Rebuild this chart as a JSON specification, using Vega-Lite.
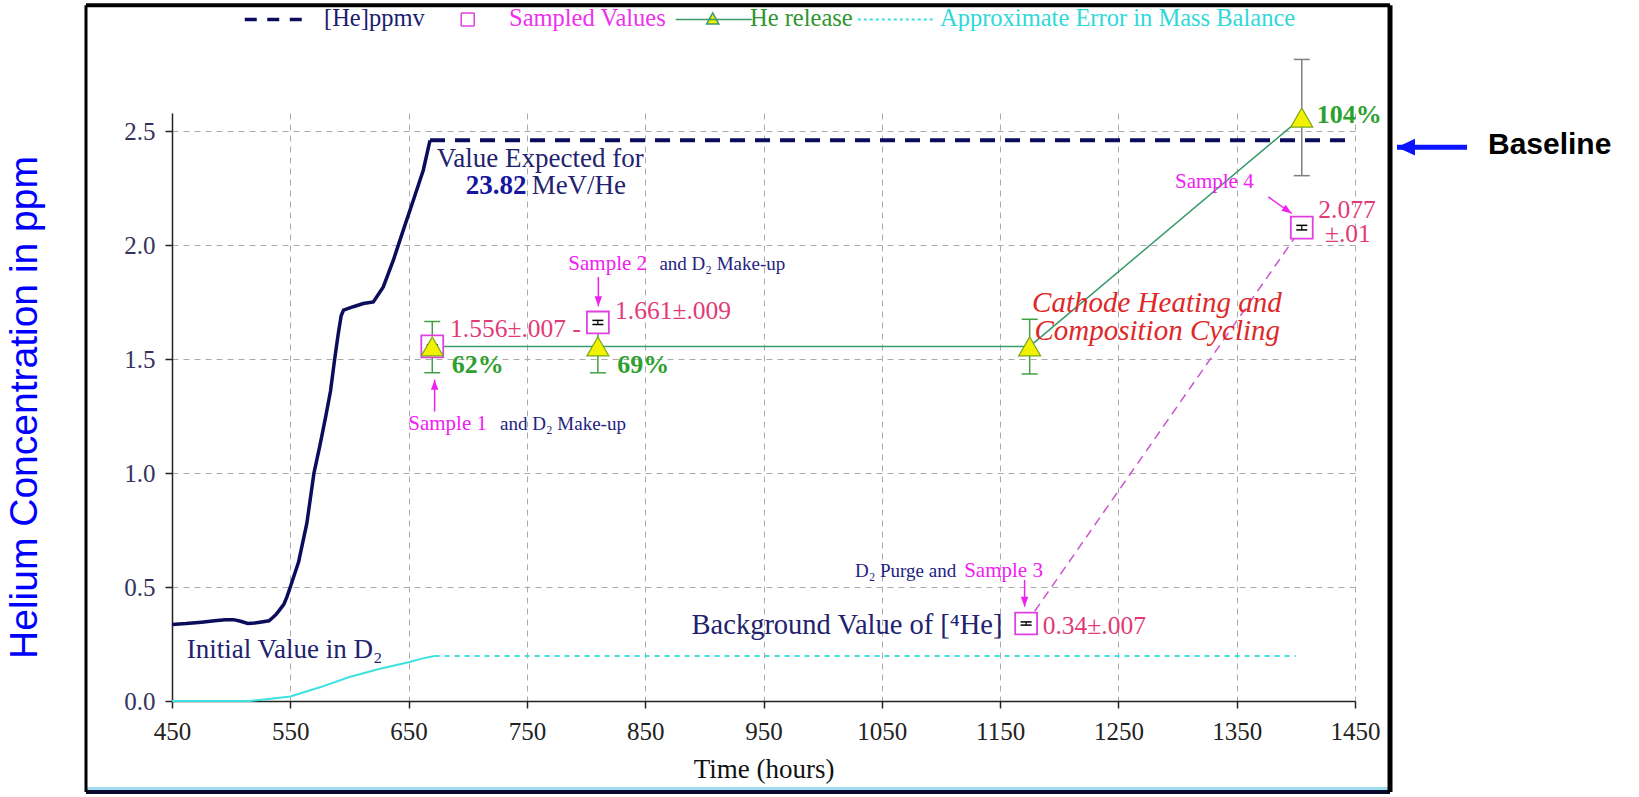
{
  "$schema": "https://vega.github.io/schema/vega-lite/v6.json",
  "autosize": {"type": "none"},
  "width": 1183,
  "height": 588,
  "padding": {"left": 172, "top": 113, "right": 284, "bottom": 96},
  "background": "white",
  "config": {
    "view": {"stroke": null},
    "font": "Liberation Serif",
    "axis": {
      "grid": true, "gridColor": "#ababab", "gridDash": [6, 5], "gridWidth": 1,
      "domainColor": "#222222", "domainWidth": 1.5, "tickColor": "#222222", "tickWidth": 1.5, "tickSize": 7,
      "labelFont": "Liberation Serif", "labelFontSize": 25, "titleFontWeight": "normal", "labelOverlap": false
    }
  },
  "datasets": {
    "heSolid": [
      {"t": 450, "c": 0.336}, {"t": 462, "c": 0.34}, {"t": 475, "c": 0.346}, {"t": 486, "c": 0.352},
      {"t": 495, "c": 0.356}, {"t": 502, "c": 0.357}, {"t": 508, "c": 0.35}, {"t": 514, "c": 0.34},
      {"t": 520, "c": 0.342}, {"t": 527, "c": 0.348}, {"t": 532, "c": 0.352}, {"t": 535, "c": 0.365},
      {"t": 538, "c": 0.38}, {"t": 541, "c": 0.4}, {"t": 544.5, "c": 0.424}, {"t": 547, "c": 0.455},
      {"t": 550, "c": 0.5}, {"t": 557, "c": 0.61}, {"t": 564, "c": 0.78}, {"t": 570, "c": 1.0},
      {"t": 575, "c": 1.12}, {"t": 580, "c": 1.25}, {"t": 584, "c": 1.36}, {"t": 587.5, "c": 1.5},
      {"t": 590.5, "c": 1.61}, {"t": 593, "c": 1.69}, {"t": 595, "c": 1.715}, {"t": 603.3, "c": 1.73},
      {"t": 611.7, "c": 1.744}, {"t": 620.2, "c": 1.751}, {"t": 628.6, "c": 1.817}, {"t": 637.1, "c": 1.934},
      {"t": 645.5, "c": 2.066}, {"t": 654, "c": 2.197}, {"t": 662.4, "c": 2.329}, {"t": 668.1, "c": 2.46}
    ],
    "heDashed": [{"t": 668.1, "c": 2.46}, {"t": 1450, "c": 2.46}],
    "errSolid": [
      {"t": 450, "c": 0}, {"t": 516, "c": 0}, {"t": 530, "c": 0.008}, {"t": 550, "c": 0.02},
      {"t": 575, "c": 0.06}, {"t": 600, "c": 0.105}, {"t": 625, "c": 0.14}, {"t": 650, "c": 0.17},
      {"t": 662, "c": 0.187}, {"t": 672, "c": 0.197}
    ],
    "errDashed": [{"t": 672, "c": 0.197}, {"t": 1400, "c": 0.197}],
    "release": [
      {"t": 670, "c": 1.556, "lo": 1.44, "hi": 1.665},
      {"t": 810, "c": 1.556, "lo": 1.44, "hi": 1.67},
      {"t": 1175, "c": 1.556, "lo": 1.435, "hi": 1.675},
      {"t": 1405, "c": 2.56, "lo": 2.305, "hi": 2.815}
    ],
    "samples": [
      {"t": 670, "c": 1.556, "lo": 1.549, "hi": 1.563},
      {"t": 810, "c": 1.661, "lo": 1.652, "hi": 1.67},
      {"t": 1172, "c": 0.34, "lo": 0.333, "hi": 0.347},
      {"t": 1405, "c": 2.077, "lo": 2.067, "hi": 2.087}
    ],
    "arrows": [
      {"t": 672, "c": 1.27, "t2": 672, "c2": 1.41, "dir": "up", "k": "m"},
      {"t": 810.4, "c": 1.861, "t2": 810.4, "c2": 1.732, "dir": "down", "k": "m"},
      {"t": 1170.7, "c": 0.531, "t2": 1170.7, "c2": 0.414, "dir": "down", "k": "m"},
      {"t": 1376.7, "c": 2.212, "t2": 1396.5, "c2": 2.139, "dir": "diag", "k": "m"},
      {"t": 1544.7, "c": 2.43, "t2": 1485.5, "c2": 2.43, "dir": "left", "k": "b"}
    ],
    "notes": [
      {"text": "Value Expected for", "t": 673.8, "c": 2.343, "k": "navy"},
      {"text": "MeV/He", "t": 754, "c": 2.224, "k": "navy"},
      {"text": "Initial Value in D₂", "t": 462.4, "c": 0.187, "k": "navy"},
      {"text": "Background Value of [⁴He]", "t": 889.2, "c": 0.294, "k": "bg"},
      {"text": "23.82", "t": 749.7, "c": 2.224, "k": "bold"},
      {"text": "1.556±.007 -", "t": 685, "c": 1.598, "k": "red"},
      {"text": "1.661±.009", "t": 824.5, "c": 1.678, "k": "red"},
      {"text": "0.34±.007", "t": 1186, "c": 0.294, "k": "red"},
      {"text": "2.077", "t": 1419, "c": 2.118, "k": "red"},
      {"text": "±.01", "t": 1424.6, "c": 2.015, "k": "red"},
      {"text": "62%", "t": 686.4, "c": 1.438, "k": "green"},
      {"text": "69%", "t": 826.4, "c": 1.438, "k": "green"},
      {"text": "104%", "t": 1417.6, "c": 2.534, "k": "green"},
      {"text": "Sample 1", "t": 649.7, "c": 1.189, "k": "mag"},
      {"text": "Sample 2", "t": 785, "c": 1.89, "k": "mag"},
      {"text": "Sample 3", "t": 1119.6, "c": 0.545, "k": "mag"},
      {"text": "Sample 4", "t": 1297.8, "c": 2.249, "k": "mag"},
      {"text": "and D₂ Make-up", "t": 727.3, "c": 1.189, "k": "navys"},
      {"text": "and D₂ Make-up", "t": 862, "c": 1.89, "k": "navys"},
      {"text": "D₂ Purge and", "t": 1027.3, "c": 0.545, "k": "navys"},
      {"text": "Cathode Heating and", "t": 1177, "c": 1.709, "k": "ital"},
      {"text": "Composition Cycling", "t": 1179, "c": 1.583, "k": "ital"},
      {"text": "Baseline", "t": 1562.4, "c": 2.44, "k": "base"}
    ]
  },
  "encoding": {
    "x": {
      "field": "t", "type": "quantitative",
      "scale": {"domain": [450, 1450], "nice": false, "zero": false},
      "axis": {
        "values": [450, 550, 650, 750, 850, 950, 1050, 1150, 1250, 1350, 1450], "format": "d",
        "title": "Time (hours)", "titleFont": "Liberation Serif", "titleFontSize": 27, "titleColor": "#111111",
        "labelColor": "#222222", "labelPadding": 11, "titlePadding": 12, "labelFlush": false
      }
    },
    "y": {
      "field": "c", "type": "quantitative",
      "scale": {"domain": [0, 2.58], "nice": false, "zero": false},
      "axis": {
        "values": [0, 0.5, 1, 1.5, 2, 2.5], "format": ".1f",
        "title": "Helium Concentration in ppm", "titleFont": "Liberation Sans", "titleFontSize": 39,
        "titleColor": "#0000ff", "titleX": -148, "titleY": 294, "titleBaseline": "middle",
        "labelColor": "#33335f", "labelPadding": 10
      }
    }
  },
  "layer": [
    {
      "data": {"name": "release"},
      "transform": [{"filter": "datum.t > 1400"}],
      "mark": {"type": "rule", "color": "#000000", "strokeWidth": 4},
      "encoding": {
        "x": {"datum": 377.3, "type": "quantitative"}, "x2": {"datum": 1479.6},
        "y": {"datum": 3.053, "type": "quantitative"}
      }
    },
    {
      "data": {"name": "release"},
      "transform": [{"filter": "datum.t > 1400"}],
      "mark": {"type": "rule", "color": "#0a0a30", "strokeWidth": 4},
      "encoding": {
        "x": {"datum": 377.3, "type": "quantitative"}, "x2": {"datum": 1479.6},
        "y": {"datum": -0.399, "type": "quantitative"}
      }
    },
    {
      "data": {"name": "release"},
      "transform": [{"filter": "datum.t > 1400"}],
      "mark": {"type": "rule", "color": "#9fdcef", "strokeWidth": 3},
      "encoding": {
        "x": {"datum": 377.3, "type": "quantitative"}, "x2": {"datum": 1479.6},
        "y": {"datum": -0.384, "type": "quantitative"}
      }
    },
    {
      "data": {"name": "release"},
      "transform": [{"filter": "datum.t > 1400"}],
      "mark": {"type": "rule", "color": "#000000", "strokeWidth": 3},
      "encoding": {
        "x": {"datum": 377.3, "type": "quantitative"},
        "y": {"datum": 3.053, "type": "quantitative"}, "y2": {"datum": -0.399}
      }
    },
    {
      "data": {"name": "release"},
      "transform": [{"filter": "datum.t > 1400"}],
      "mark": {"type": "rule", "color": "#000000", "strokeWidth": 5},
      "encoding": {
        "x": {"datum": 1479.6, "type": "quantitative"},
        "y": {"datum": 3.053, "type": "quantitative"}, "y2": {"datum": -0.399}
      }
    },
    {"data": {"name": "errSolid"}, "mark": {"type": "line", "color": "#3fe0e0", "strokeWidth": 2}, "encoding": {}},
    {"data": {"name": "errDashed"}, "mark": {"type": "line", "color": "#3fe0e0", "strokeWidth": 2, "strokeDash": [5, 5]}, "encoding": {}},
    {
      "data": {"name": "heSolid"},
      "mark": {"type": "line", "strokeWidth": 3.5},
      "encoding": {
        "color": {
          "datum": "[He]ppmv", "type": "nominal",
          "scale": {
            "domain": ["[He]ppmv", "Sampled Values", "He release", "Approximate Error in Mass Balance"],
            "range": ["#0c0c5c", "#e040e0", "#3a9a6a", "#3fe0e0"]
          },
          "legend": {
            "orient": "none", "legendX": 68.5, "legendY": -106, "direction": "horizontal", "title": null,
            "labelFont": "Liberation Serif", "labelFontSize": 24.5, "labelOffset": 59,
            "columnPadding": 0, "labelLimit": 600, "padding": 0,
            "encode": {
              "symbols": {
                "update": {
                  "shape": {"signal": "datum.value === '[He]ppmv' ? 'M-1.6,0H9.8' : datum.value === 'Sampled Values' ? 'M4.7,-1.3H7.3V1.3H4.7Z' : datum.value === 'He release' ? 'M-0.6,0H14.6M6.8,-1.3L8,0.9L5.6,0.9Z' : 'M-2.2,0H12.8'"},
                  "fill": {"signal": "datum.value === 'He release' ? '#f2f200' : datum.value === 'Sampled Values' ? '#ffffff' : 'transparent'"},
                  "stroke": {"signal": "datum.value === '[He]ppmv' ? '#0c0c5c' : datum.value === 'Sampled Values' ? '#e040e0' : datum.value === 'He release' ? '#3a9a3a' : '#3fe0e0'"},
                  "strokeWidth": {"signal": "datum.value === '[He]ppmv' ? 3.5 : datum.value === 'Approximate Error in Mass Balance' ? 2 : 1.5"},
                  "strokeDash": {"signal": "datum.value === '[He]ppmv' ? [12, 10.5] : datum.value === 'Approximate Error in Mass Balance' ? [3, 3] : [1, 0]"},
                  "size": {"value": 100},
                  "opacity": {"value": 1}
                }
              },
              "labels": {
                "update": {
                  "fill": {"signal": "datum.value === '[He]ppmv' ? '#1c1c70' : datum.value === 'Sampled Values' ? '#ee30ee' : datum.value === 'He release' ? '#2e962e' : '#30d8d8'"}
                }
              }
            }
          }
        }
      }
    },
    {"data": {"name": "heDashed"}, "mark": {"type": "line", "color": "#0c0c5c", "strokeWidth": 4, "strokeDash": [15, 10]}, "encoding": {}},
    {
      "data": {"name": "samples"},
      "transform": [{"filter": "datum.t > 1100"}],
      "mark": {"type": "line", "color": "#cc55cc", "strokeWidth": 1.5, "strokeDash": [9, 6]},
      "encoding": {}
    },
    {"data": {"name": "release"}, "mark": {"type": "line", "color": "#3a9a6a", "strokeWidth": 1.5}, "encoding": {}},
    {
      "data": {"name": "release"},
      "mark": {"type": "rule", "strokeWidth": 1.5},
      "encoding": {
        "y": {"field": "lo", "type": "quantitative"}, "y2": {"field": "hi"},
        "color": {"condition": {"test": "datum.t > 1400", "value": "#808080"}, "value": "#44a044"}
      }
    },
    {
      "data": {"name": "release"},
      "transform": [{"fold": ["lo", "hi"], "as": ["end", "v"]}],
      "mark": {"type": "tick", "orient": "horizontal", "size": 16, "thickness": 1.5, "opacity": 1},
      "encoding": {
        "y": {"field": "v", "type": "quantitative"},
        "color": {"condition": {"test": "datum.t > 1400", "value": "#808080"}, "value": "#44a044"}
      }
    },
    {
      "data": {"name": "samples"},
      "mark": {"type": "point", "shape": "square", "size": 480, "filled": true, "fill": "#ffffff", "stroke": "#e040e0", "strokeWidth": 1.8, "opacity": 1},
      "encoding": {}
    },
    {
      "data": {"name": "samples"},
      "mark": {"type": "rule", "color": "#000000", "strokeWidth": 1.2},
      "encoding": {"y": {"field": "lo", "type": "quantitative"}, "y2": {"field": "hi"}}
    },
    {
      "data": {"name": "samples"},
      "transform": [{"fold": ["lo", "hi"], "as": ["end", "v"]}],
      "mark": {"type": "tick", "orient": "horizontal", "size": 11, "thickness": 1.5, "color": "#000000", "opacity": 1},
      "encoding": {"y": {"field": "v", "type": "quantitative"}}
    },
    {
      "data": {"name": "release"},
      "mark": {"type": "point", "shape": "triangle-up", "size": 484, "filled": true, "fill": "#f2f200", "stroke": "#7aa820", "strokeWidth": 1.2, "opacity": 1},
      "encoding": {}
    },
    {
      "data": {"name": "arrows"},
      "mark": {"type": "rule"},
      "encoding": {
        "x2": {"field": "t2"}, "y2": {"field": "c2"},
        "color": {"condition": {"test": "datum.k === 'b'", "value": "#0a14ff"}, "value": "#f020f0"},
        "strokeWidth": {"condition": {"test": "datum.k === 'b'", "value": 5}, "value": 1.5}
      }
    },
    {
      "data": {"name": "arrows"},
      "mark": {"type": "point", "filled": true, "opacity": 1},
      "encoding": {
        "x": {"field": "t2", "type": "quantitative"},
        "y": {"field": "c2", "type": "quantitative"},
        "shape": {
          "field": "dir", "type": "nominal",
          "scale": {
            "domain": ["up", "down", "diag", "left"],
            "range": ["M0,0L-0.6,1.6L0.6,1.6Z", "M0,0L-0.6,-1.6L0.6,-1.6Z", "M0,0L-1.651,-0.436L-0.957,-1.414Z", "M0,0L1.6,-0.75L1.6,0.75Z"]
          },
          "legend": null
        },
        "size": {"condition": {"test": "datum.k === 'b'", "value": 506}, "value": 156},
        "color": {"condition": {"test": "datum.k === 'b'", "value": "#0a14ff"}, "value": "#f020f0"}
      }
    },
    {
      "data": {"name": "notes"},
      "transform": [{"filter": "datum.k === 'navy'"}],
      "mark": {"type": "text", "align": "left", "baseline": "alphabetic", "font": "Liberation Serif", "fontSize": 27, "color": "#22226e"},
      "encoding": {"text": {"field": "text"}}
    },
    {
      "data": {"name": "notes"},
      "transform": [{"filter": "datum.k === 'bg'"}],
      "mark": {"type": "text", "align": "left", "baseline": "alphabetic", "font": "Liberation Serif", "fontSize": 28.5, "color": "#22226e"},
      "encoding": {"text": {"field": "text"}}
    },
    {
      "data": {"name": "notes"},
      "transform": [{"filter": "datum.k === 'bold'"}],
      "mark": {"type": "text", "align": "right", "baseline": "alphabetic", "font": "Liberation Serif", "fontSize": 27, "fontWeight": "bold", "color": "#1515a0"},
      "encoding": {"text": {"field": "text"}}
    },
    {
      "data": {"name": "notes"},
      "transform": [{"filter": "datum.k === 'red'"}],
      "mark": {"type": "text", "align": "left", "baseline": "alphabetic", "font": "Liberation Serif", "fontSize": 25.5, "color": "#e23a78"},
      "encoding": {"text": {"field": "text"}}
    },
    {
      "data": {"name": "notes"},
      "transform": [{"filter": "datum.k === 'green'"}],
      "mark": {"type": "text", "align": "left", "baseline": "alphabetic", "font": "Liberation Serif", "fontSize": 26, "fontWeight": "bold", "color": "#2ea02e"},
      "encoding": {"text": {"field": "text"}}
    },
    {
      "data": {"name": "notes"},
      "transform": [{"filter": "datum.k === 'mag'"}],
      "mark": {"type": "text", "align": "left", "baseline": "alphabetic", "font": "Liberation Serif", "fontSize": 21, "color": "#f020f0"},
      "encoding": {"text": {"field": "text"}}
    },
    {
      "data": {"name": "notes"},
      "transform": [{"filter": "datum.k === 'navys'"}],
      "mark": {"type": "text", "align": "left", "baseline": "alphabetic", "font": "Liberation Serif", "fontSize": 19, "color": "#222280"},
      "encoding": {"text": {"field": "text"}}
    },
    {
      "data": {"name": "notes"},
      "transform": [{"filter": "datum.k === 'ital'"}],
      "mark": {"type": "text", "align": "left", "baseline": "alphabetic", "font": "Liberation Serif", "fontSize": 29, "fontStyle": "italic", "color": "#e02828"},
      "encoding": {"text": {"field": "text"}}
    },
    {
      "data": {"name": "notes"},
      "transform": [{"filter": "datum.k === 'base'"}],
      "mark": {"type": "text", "align": "left", "baseline": "middle", "font": "Liberation Sans", "fontSize": 30, "fontWeight": "bold", "color": "#000000"},
      "encoding": {"text": {"field": "text"}}
    }
  ]
}
